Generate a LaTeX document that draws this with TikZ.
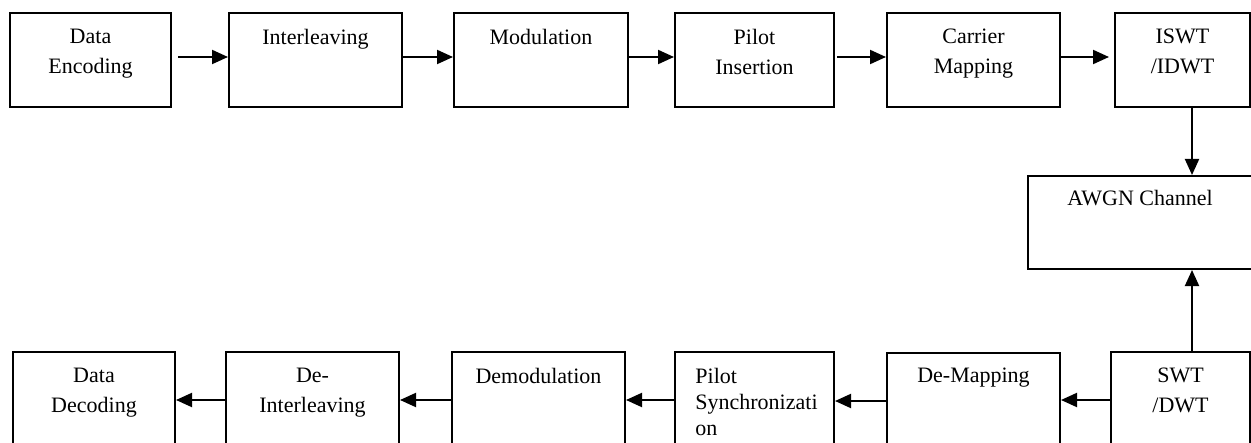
\documentclass[tikz,border=0pt]{standalone}
\usepackage{fontspec}
\setmainfont{Liberation Serif}
\usetikzlibrary{arrows.meta}

\tikzset{
    block/.style={draw, line width=1pt, minimum height=47pt, inner sep=0pt},
    txt/.style={anchor=north, inner sep=0pt, align=center, font=\fontsize{11}{15}\selectfont},
    arr/.style={line width=1pt, -{Triangle[length=8pt,width=7pt]}}
}

\begin{document}
\begin{tikzpicture}[x=0.5pt, y=-0.5pt]
    \useasboundingbox (0,0) rectangle (1251,443);
    \clip (0,0) rectangle (1251,443);
    % transmitter
    \node[block, minimum width=80.5pt] (enc) at (90.5,60) {};
    \node[block, minimum width=86.5pt] (intl) at (315.5,60) {};
    \node[block, minimum width=87pt] (mod) at (541,60) {};
    \node[block, minimum width=79.5pt] (pins) at (754.5,60) {};
    \node[block, minimum width=86.5pt] (cmap) at (973.5,60) {};
    \node[block, minimum width=67.5pt] (iswt) at (1182.5,60) {};
    \node[txt] (enct) at ([yshift=-8.4pt]enc.north) {Data\\Encoding};
    \node[txt] (intlt) at ([yshift=-8.4pt]intl.north) {Interleaving};
    \node[txt] (modt) at ([yshift=-8.4pt]mod.north) {Modulation};
    \node[txt] (pinst) at ([yshift=-8.4pt]pins.north) {Pilot\\Insertion};
    \node[txt] (cmapt) at ([yshift=-8.4pt]cmap.north) {Carrier\\Mapping};
    \node[txt] (iswtt) at ([yshift=-8.4pt]iswt.north) {ISWT\\/IDWT};
    % channel
    \node[block, minimum width=112pt, minimum height=46.5pt] (awgn) at (1140,222.5) {};
    \node[txt] (awgnt) at ([yshift=-7.2pt]awgn.north) {AWGN Channel};
    % receiver
    \node[block, minimum width=81pt] (dec) at (94,399) {};
    \node[block, minimum width=86.5pt] (dint) at (312.5,399) {};
    \node[block, minimum width=86.5pt] (demod) at (538.5,399) {};
    \node[block, minimum width=79.5pt] (psync) at (754.5,399) {};
    \node[block, minimum width=86.5pt] (dmap) at (973.5,400) {};
    \node[block, minimum width=69.5pt] (swt) at (1180.5,399) {};
    \node[txt] (dect) at ([yshift=-8.4pt]dec.north) {Data\\Decoding};
    \node[txt] (dintt) at ([yshift=-8.4pt]dint.north) {De-\\Interleaving};
    \node[txt] (demodt) at ([yshift=-8.4pt]demod.north) {Demodulation};
    \node[txt, anchor=north west, align=left, font=\fontsize{11}{13}\selectfont] (psynct) at ([xshift=10.5pt,yshift=-8.4pt]psync.north west) {Pilot\\Synchronizati\\on};
    \node[txt] (dmapt) at ([yshift=-7.8pt]dmap.north) {De-Mapping};
    \node[txt] (swtt) at ([yshift=-8.4pt]swt.north) {SWT\\/DWT};
    % arrows
    \draw[arr] ([xshift=3pt,yshift=1.5pt]enc.east) -- ([yshift=1.5pt]intl.west);
    \draw[arr] ([yshift=1.5pt]intl.east) -- ([yshift=1.5pt]mod.west);
    \draw[arr] ([yshift=1.5pt]mod.east) -- ([yshift=1.5pt]pins.west);
    \draw[arr] ([xshift=1pt,yshift=1.5pt]pins.east) -- ([yshift=1.5pt]cmap.west);
    \draw[arr] ([yshift=1.5pt]cmap.east) -- ([xshift=-2.5pt,yshift=1.5pt]iswt.west);
    \draw[arr] ([xshift=4.75pt]iswt.south) -- ([xshift=4.75pt]iswt.south |- awgn.north);
    \draw[arr] ([xshift=5.75pt]swt.north) -- ([xshift=5.75pt]swt.north |- awgn.south);
    \draw[arr] ([yshift=-0.5pt]swt.west) -- ([yshift=-0.5pt]swt.west -| dmap.east);
    \draw[arr] ([yshift=-0.5pt]dmap.west) -- ([yshift=-0.5pt]dmap.west -| psync.east);
    \draw[arr] ([yshift=-0.5pt]psync.west) -- ([yshift=-0.5pt]demod.east);
    \draw[arr] ([yshift=-0.5pt]demod.west) -- ([yshift=-0.5pt]dint.east);
    \draw[arr] ([yshift=-0.5pt]dint.west) -- ([yshift=-0.5pt]dec.east);
\end{tikzpicture}
\end{document}
